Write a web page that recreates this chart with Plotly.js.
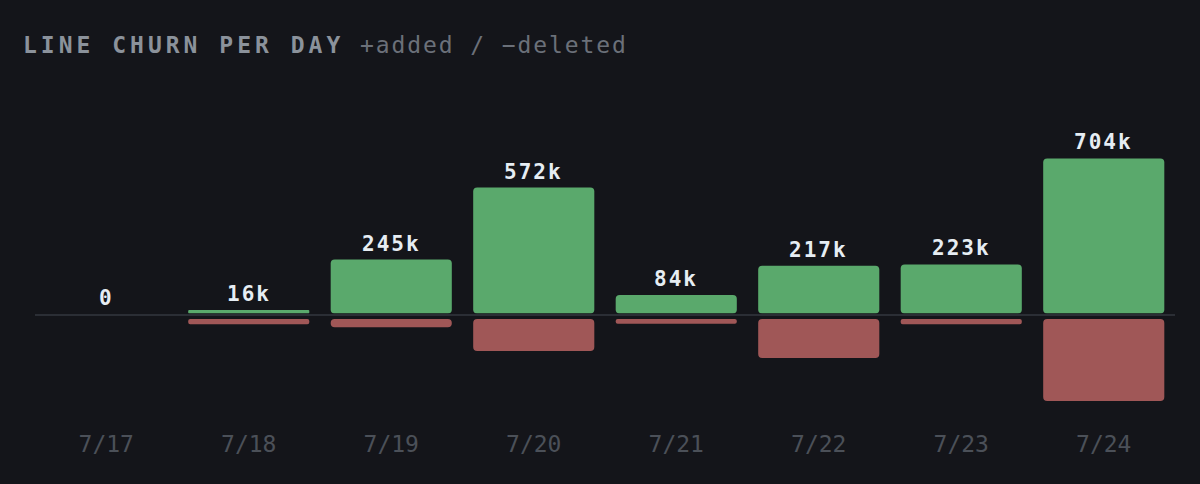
<!DOCTYPE html>
<html>
<head>
<meta charset="utf-8">
<script src="https://cdn.plot.ly/plotly-3.0.1.min.js"></script>
<style>
  html, body { margin: 0; padding: 0; background: #14151a; }
  #chart { width: 1200px; height: 484px; }
</style>
</head>
<body>
<div id="chart"></div>
<script>
// ---- data (thousands of lines) ----
const days = ['7/17', '7/18', '7/19', '7/20', '7/21', '7/22', '7/23', '7/24'];
const added = [0, 16, 245, 572, 84, 217, 223, 704];
const deleted = [0, 24, 38, 145, 22, 177, 24, 372];
const titleMain = 'LINE CHURN PER DAY';
const titleSub = '+added / \u2212deleted';

// ---- style ----
const BG = '#14151a';
const GREEN = '#5aa96c';
const RED = '#a05757';
const MONO = '"DejaVu Sans Mono", "Liberation Mono", monospace';
const R = 4;

// layout geometry (px)
const W = 1200, H = 484;
const M = { l: 35, r: 25, t: 100, b: 64 };
const plotTop = M.t, plotBot = H - M.b, plotH = plotBot - plotTop;
const pxPerK = 0.2202;
const addZeroPx = 313.5;   // bottom of green bars
const delZeroPx = 319;     // top of red bars
const axisLinePx = 315;    // the thin baseline
const fracOf = px => (plotBot - px) / plotH;

const fmt = v => v === 0 ? '0' : v + 'k';

const traces = [
  {
    type: 'bar', x: days, y: added, base: added.map(() => 0), yaxis: 'y',
    marker: { color: GREEN, cornerradius: R, line: { width: 0 } },
    hoverinfo: 'skip', showlegend: false
  },
  {
    type: 'bar', x: days, y: deleted.map(v => -v), base: deleted.map(() => 0), yaxis: 'y2',
    marker: { color: RED, cornerradius: R, line: { width: 0 } },
    hoverinfo: 'skip', showlegend: false
  }
];

const annotations = days.map((d, i) => ({
  x: d, y: added[i], xref: 'x', yref: 'y',
  text: '<span style="letter-spacing:2px">' + fmt(added[i]) + '</span>',
  showarrow: false, yanchor: 'bottom', yshift: 2,
  font: { family: MONO, size: 21, color: '#e6edf3', weight: 700 }
}));

const layout = {
  width: W, height: H,
  margin: M,
  paper_bgcolor: BG, plot_bgcolor: BG,
  barmode: 'overlay', bargap: 0.15,
  hovermode: false,
  title: {
    text: '<span style="letter-spacing:4px;font-weight:bold">' + titleMain + '</span>' +
          '<span style="font-size:23px;color:#6b7079;letter-spacing:1.9px"> ' + titleSub + '</span>',
    font: { family: MONO, size: 23, color: '#8b929b' },
    xref: 'container', x: 23 / W, xanchor: 'left',
    yref: 'container', y: 1 - 45 / H, yanchor: 'middle'
  },
  xaxis: {
    type: 'category', range: [-0.5, days.length - 0.5],
    anchor: 'y2', showgrid: false, zeroline: false, showline: false,
    ticks: '', ticklabelstandoff: 8,
    tickfont: { family: MONO, size: 23, color: '#4b5058' }
  },
  yaxis: {
    domain: [fracOf(addZeroPx), 1],
    range: [0, (addZeroPx - plotTop) / pxPerK],
    visible: false, fixedrange: true
  },
  yaxis2: {
    domain: [0, fracOf(delZeroPx)],
    range: [-(plotBot - delZeroPx) / pxPerK, 0],
    visible: false, fixedrange: true
  },
  shapes: [{
    type: 'line', xref: 'paper', yref: 'paper', x0: 0, x1: 1,
    y0: fracOf(axisLinePx), y1: fracOf(axisLinePx),
    line: { color: '#2b2e35', width: 2 }, layer: 'below'
  }],
  annotations: annotations
};

Plotly.newPlot('chart', traces, layout, { displayModeBar: false, staticPlot: true });
</script>
</body>
</html>
